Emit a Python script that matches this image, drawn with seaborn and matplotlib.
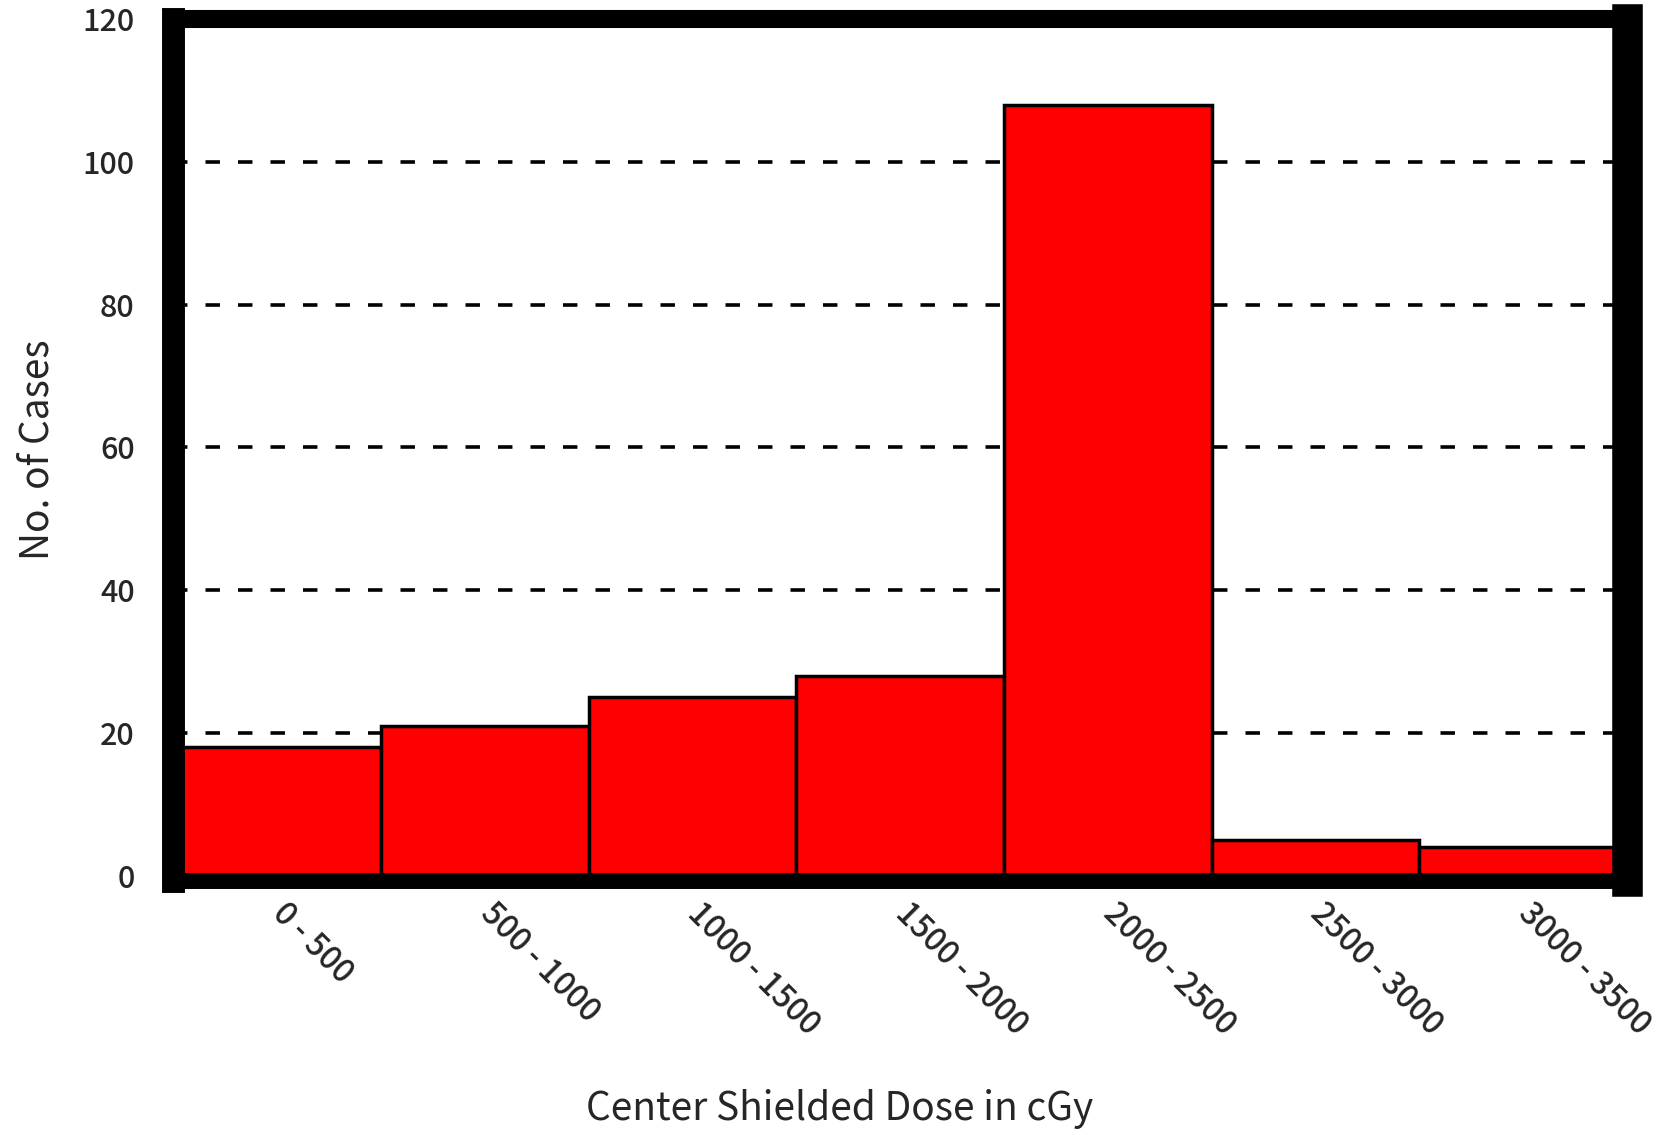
import pandas as pd
import matplotlib
matplotlib.use("Agg")
import matplotlib.pyplot as plt
import seaborn as sns

# ----------------------------
# Data
# ----------------------------
dose_bins = ["0 - 500", "500 - 1000", "1000 - 1500", "1500 - 2000",
             "2000 - 2500", "2500 - 3000", "3000 - 3500"]
cases = [18, 21, 25, 28, 108, 5, 4]
y_ticks = [0, 20, 40, 60, 80, 100, 120]

df = pd.DataFrame({"Dose": dose_bins, "Cases": cases})

# ----------------------------
# Style
# ----------------------------
sns.set_style("white")
plt.rcParams["font.family"] = ["Noto Sans CJK JP", "DejaVu Sans"]
plt.rcParams["font.weight"] = "medium"

fig = plt.figure(figsize=(16.65, 11.35), dpi=100)
ax = fig.add_axes([0.1042, 0.2238, 0.9772 - 0.1042, 0.9833 - 0.2238])

sns.barplot(data=df, x="Dose", y="Cases", color="#ff0000", saturation=1,
            width=1.0, edgecolor="black", linewidth=2.5, ax=ax, zorder=2)

ax.set_ylim(-0.7, 120)
ax.set_xlim(-0.5, 6.5)
ax.set_yticks(y_ticks)

# dashed horizontal grid behind bars
ax.set_axisbelow(True)
ax.yaxis.grid(True, color="black", linestyle=(0, (4, 5)), linewidth=2.6)

# heavy frame
ax.spines["left"].set_linewidth(16.5)
ax.spines["top"].set_linewidth(13)
ax.spines["right"].set_linewidth(22)
ax.spines["bottom"].set_linewidth(11.5)
for s in ax.spines.values():
    s.set_color("black")
    s.set_visible(True)

ax.tick_params(axis="y", left=True, length=4, width=2, color="black",
               pad=24, labelsize=22)
ax.tick_params(axis="x", bottom=False, length=0, pad=20, labelsize=23)
for lab in ax.get_xticklabels():
    lab.set_rotation(-45)
    lab.set_ha("left")
    lab.set_va("center")
    lab.set_rotation_mode("anchor")

ax.set_xlabel("Center Shielded Dose in cGy", fontsize=28, labelpad=34)
ax.xaxis.label.set_x(0.4586)
ax.set_ylabel("No. of Cases", fontsize=28, labelpad=18)

fig.savefig("out.png", dpi=100)
